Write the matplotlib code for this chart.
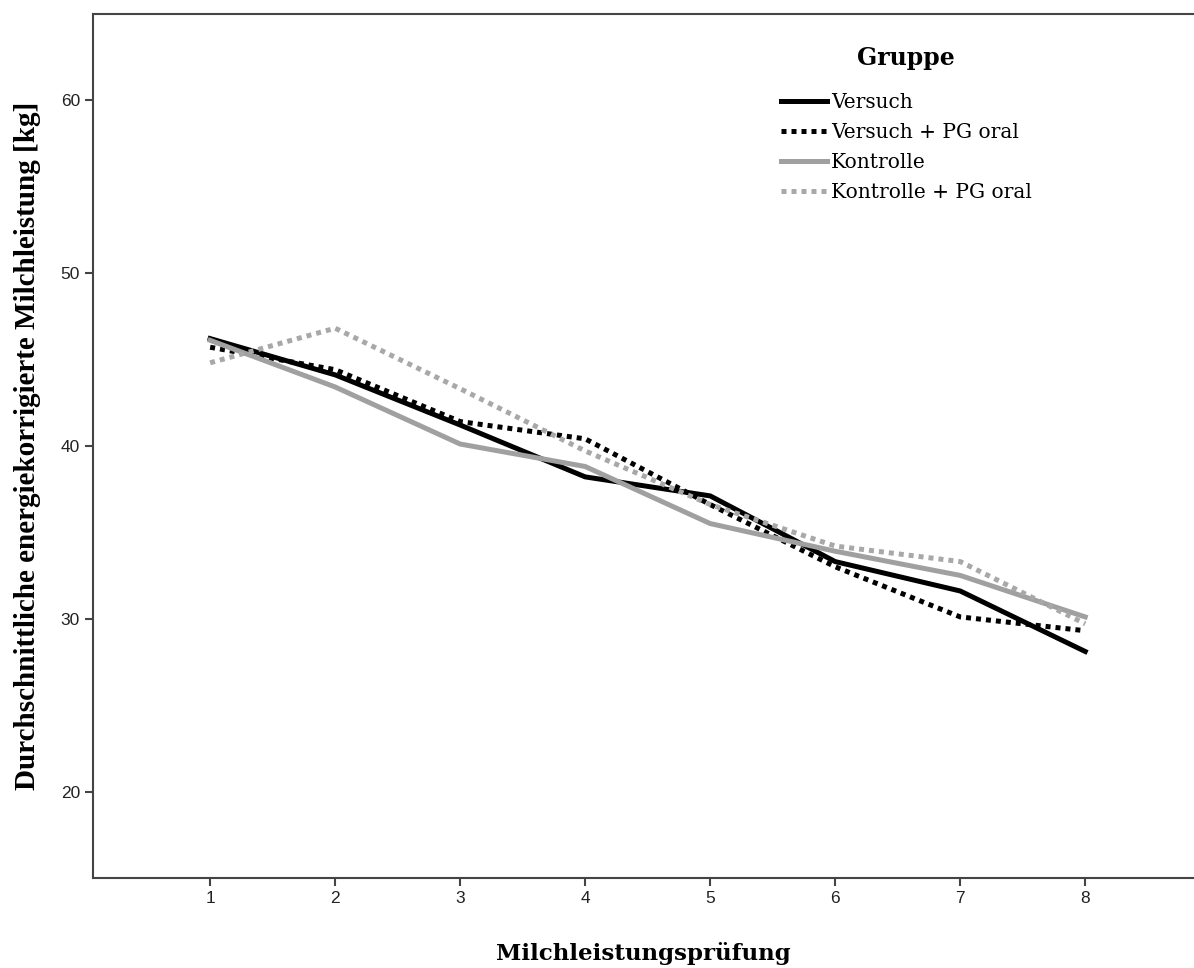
import matplotlib.pyplot as plt
import numpy as np

pruefung = [1, 2, 3, 4, 5, 6, 7, 8]
versuch = [46.2, 44.1, 41.2, 38.2, 37.1, 33.3, 31.6, 28.1]
versuch_pg = [45.7, 44.4, 41.4, 40.4, 36.6, 33.0, 30.1, 29.3]
kontrolle = [46.1, 43.4, 40.1, 38.8, 35.5, 33.9, 32.5, 30.1]
kontrolle_pg = [44.8, 46.8, 43.3, 39.7, 36.6, 34.2, 33.3, 29.7]

serif = "Liberation Serif"
wide_serif = "DejaVu Serif"
sans = "Liberation Sans"

fig = plt.figure(figsize=(11.94, 9.68), dpi=100)
ax = fig.add_axes([0.078, 0.093, 0.922, 0.893])

lw = 3.6
ax.plot(pruefung, versuch, color="black", lw=lw, label="Versuch")
ax.plot(pruefung, versuch_pg, color="black", lw=lw, ls=(0, (1, 1)),
        dash_capstyle="butt", label="Versuch + PG oral")
ax.plot(pruefung, kontrolle, color="#a0a0a0", lw=lw, label="Kontrolle")
ax.plot(pruefung, kontrolle_pg, color="#a8a8a8", lw=lw, ls=(0, (1, 1)),
        dash_capstyle="butt", label="Kontrolle + PG oral")

ax.set_xlim(0.064, 8.87)
ax.set_ylim(15, 65)
ax.set_xticks(pruefung)
ax.set_yticks([20, 30, 40, 50, 60])
for s in ["left", "bottom", "top"]:
    ax.spines[s].set_color("#444444")
    ax.spines[s].set_linewidth(1.5)
ax.spines["right"].set_visible(False)
ax.tick_params(direction="out", length=6, width=1.5, color="#444444",
               labelsize=12.5, labelcolor="#222222")
for lab in ax.get_xticklabels() + ax.get_yticklabels():
    lab.set_fontfamily(sans)

ax.set_xlabel("Milchleistungsprüfung", fontfamily=wide_serif, fontweight="bold",
              fontsize=16.5, labelpad=26)
ax.set_ylabel("Durchschnittliche energiekorrigierte Milchleistung [kg]",
              fontfamily=serif, fontweight="bold", fontsize=21, labelpad=14)

leg = ax.legend(loc="upper left", bbox_to_anchor=(0.608, 0.983), frameon=False,
                title="Gruppe", handlelength=2.3, handletextpad=0.2,
                labelspacing=0.55, prop={"family": wide_serif, "size": 14.5})
leg.get_title().set_fontfamily(wide_serif)
leg.get_title().set_fontweight("bold")
leg.get_title().set_fontsize(17)
leg._legend_box.sep = 16

fig.savefig("out.png", dpi=100)
